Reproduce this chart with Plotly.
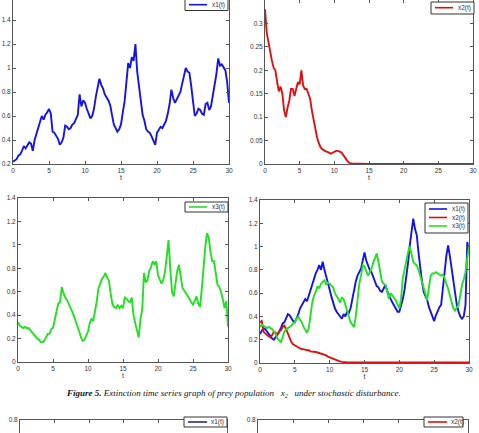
import numpy as np
import plotly.graph_objects as go

W, H = 479, 433

# time grid (0 to 30, step 0.25)
t = np.arange(0, 30.0001, 0.25)

# ---- Figure 5, panel (a): x1(t)
p1_x1 = [0.22, 0.23, 0.24, 0.27, 0.28, 0.31, 0.35, 0.33, 0.36, 0.38, 0.37, 0.31,
         0.40, 0.45, 0.50, 0.55, 0.60, 0.57, 0.61, 0.63, 0.66, 0.62, 0.47, 0.46,
         0.44, 0.41, 0.36, 0.38, 0.42, 0.52, 0.51, 0.49, 0.50, 0.53, 0.54, 0.57,
         0.61, 0.78, 0.68, 0.73, 0.71, 0.66, 0.62, 0.58, 0.60, 0.66, 0.76, 0.84,
         0.91, 0.86, 0.83, 0.78, 0.76, 0.73, 0.69, 0.60, 0.53, 0.50, 0.47, 0.49,
         0.53, 0.63, 0.72, 0.88, 1.04, 1.00, 1.09, 1.06, 1.20, 0.97, 0.85, 0.70,
         0.61, 0.56, 0.49, 0.47, 0.46, 0.43, 0.40, 0.36, 0.46, 0.48, 0.51, 0.50,
         0.53, 0.56, 0.62, 0.70, 0.82, 0.75, 0.71, 0.74, 0.76, 0.80, 0.87, 0.95,
         1.00, 0.97, 0.96, 0.85, 0.71, 0.60, 0.62, 0.66, 0.65, 0.62, 0.61, 0.70,
         0.71, 0.65, 0.68, 0.76, 0.85, 0.95, 1.08, 1.02, 1.03, 1.00, 0.98, 0.88,
         0.71]

# ---- panel (b): x2(t)
p2_x2_head = [0.33, 0.28, 0.26, 0.235, 0.22, 0.205, 0.20, 0.175, 0.155, 0.165, 0.15,
              0.115, 0.10, 0.12, 0.135, 0.16, 0.16, 0.145, 0.16, 0.175, 0.17, 0.20,
              0.167, 0.16, 0.16, 0.15, 0.14, 0.115, 0.093, 0.075, 0.057, 0.045, 0.036,
              0.032, 0.029, 0.027, 0.026, 0.023, 0.022, 0.024, 0.026, 0.028, 0.028,
              0.027, 0.025, 0.02, 0.015, 0.008, 0.004, 0.002, 0.001]
p2_tail_t = [15, 20, 25, 30]
p2_tail_v = [0.0, 0.0, 0.0, 0.0]

# ---- panel (c): x3(t)
p3_x3 = [0.34, 0.31, 0.30, 0.29, 0.30, 0.29, 0.29, 0.27, 0.26, 0.23, 0.21, 0.20,
         0.19, 0.17, 0.17, 0.18, 0.21, 0.24, 0.24, 0.28, 0.29, 0.37, 0.44, 0.50,
         0.51, 0.64, 0.59, 0.55, 0.53, 0.50, 0.46, 0.43, 0.39, 0.35, 0.31, 0.26,
         0.21, 0.18, 0.19, 0.22, 0.26, 0.33, 0.37, 0.35, 0.43, 0.52, 0.63, 0.68,
         0.71, 0.73, 0.76, 0.72, 0.69, 0.58, 0.49, 0.47, 0.46, 0.49, 0.46, 0.48,
         0.46, 0.55, 0.54, 0.52, 0.51, 0.55, 0.40, 0.33, 0.26, 0.21, 0.37, 0.45,
         0.76, 0.68, 0.70, 0.78, 0.81, 0.86, 0.83, 0.86, 0.74, 0.70, 0.67, 0.70,
         0.77, 0.90, 1.04, 0.80, 0.60, 0.56, 0.69, 0.78, 0.83, 0.72, 0.63, 0.61,
         0.59, 0.57, 0.54, 0.51, 0.49, 0.52, 0.56, 0.50, 0.47, 0.62, 0.83, 0.98,
         1.10, 1.06, 0.94, 0.86, 0.86, 0.74, 0.66, 0.64, 0.60, 0.54, 0.46, 0.52,
         0.30]

# ---- panel (d): x1, x2, x3 together
p4_x1 = [0.25, 0.28, 0.30, 0.29, 0.27, 0.24, 0.22, 0.21, 0.20, 0.22, 0.25, 0.27,
         0.30, 0.34, 0.35, 0.38, 0.42, 0.41, 0.38, 0.36, 0.35, 0.38, 0.42, 0.47,
         0.50, 0.53, 0.55, 0.53, 0.58, 0.63, 0.67, 0.73, 0.77, 0.80, 0.84, 0.80,
         0.87, 0.80, 0.75, 0.69, 0.63, 0.57, 0.51, 0.47, 0.44, 0.42, 0.40, 0.38,
         0.42, 0.40, 0.44, 0.43, 0.47, 0.55, 0.64, 0.70, 0.75, 0.78, 0.81, 0.88,
         0.95, 0.88, 0.83, 0.80, 0.78, 0.73, 0.70, 0.66, 0.65, 0.62, 0.61, 0.64,
         0.67, 0.62, 0.58, 0.55, 0.52, 0.49, 0.47, 0.44, 0.44, 0.49, 0.55, 0.63,
         0.73, 0.86, 1.01, 1.12, 1.24, 1.15, 1.10, 0.95, 0.81, 0.70, 0.61, 0.57,
         0.54, 0.48, 0.44, 0.40, 0.36, 0.41, 0.45, 0.48, 0.50, 0.62, 0.78, 0.92,
         1.01, 0.92, 0.81, 0.68, 0.58, 0.50, 0.44, 0.40, 0.38, 0.40, 0.50, 1.04,
         0.95]
p4_x2_head = [0.35, 0.36, 0.27, 0.25, 0.24, 0.23, 0.22, 0.24, 0.27, 0.26, 0.24, 0.27,
              0.28, 0.31, 0.32, 0.29, 0.25, 0.21, 0.18, 0.16, 0.15, 0.14, 0.13, 0.125,
              0.12, 0.12, 0.115, 0.11, 0.11, 0.10, 0.10, 0.095, 0.095, 0.09, 0.085,
              0.08, 0.08, 0.07, 0.065, 0.055, 0.05, 0.04, 0.035, 0.03, 0.025, 0.018,
              0.012, 0.01, 0.008, 0.006, 0.005]
p4_x2_tail_t = [15, 20, 25, 30]
p4_x2_tail_v = [0.004, 0.004, 0.004, 0.004]
p4_x3 = [0.31, 0.33, 0.32, 0.31, 0.30, 0.31, 0.30, 0.29, 0.27, 0.25, 0.21, 0.19,
         0.18, 0.22, 0.27, 0.29, 0.30, 0.31, 0.32, 0.34, 0.35, 0.38, 0.40, 0.37,
         0.35, 0.31, 0.28, 0.26, 0.30, 0.42, 0.52, 0.58, 0.61, 0.66, 0.64, 0.68,
         0.70, 0.71, 0.67, 0.69, 0.68, 0.66, 0.65, 0.60, 0.58, 0.55, 0.52, 0.56,
         0.55, 0.50, 0.44, 0.38, 0.35, 0.33, 0.31, 0.40, 0.55, 0.68, 0.75, 0.84,
         0.83, 0.78, 0.75, 0.78, 0.81, 0.86, 0.90, 0.94, 0.87, 0.78, 0.70, 0.68,
         0.67, 0.62, 0.55, 0.60, 0.58, 0.57, 0.54, 0.50, 0.47, 0.55, 0.73, 0.80,
         0.88, 0.95, 1.00, 0.92, 0.87, 0.85, 0.84, 0.80, 0.75, 0.70, 0.64, 0.58,
         0.54, 0.65, 0.75, 0.77, 0.77, 0.78, 0.77, 0.76, 0.75, 0.76, 0.73, 0.68,
         0.64, 0.58, 0.52, 0.47, 0.45, 0.47, 0.50, 0.58, 0.67, 0.72, 0.78, 0.90,
         1.00]

x_ticks = [0, 5, 10, 15, 20, 25, 30]
caption_html = ("<b><i>Figure 5.</i></b><i> Extinction time series graph of prey population"
                " &nbsp; x<sub>2</sub> &nbsp; under stochastic disturbance.</i>")

BLUE = "#1414e6"
RED = "#e01010"
GREEN = "#22e022"
NAVY = "#2a2a8a"
AX = "#555555"
TXT = "#333333"
FONT = "Liberation Sans"


def fx(p):
    return p / W


def fy(p):
    return 1 - p / H


fig = go.Figure()

t2 = list(t[:len(p2_x2_head)]) + p2_tail_t
v2 = p2_x2_head + p2_tail_v
t42 = list(t[:len(p4_x2_head)]) + p4_x2_tail_t
v42 = p4_x2_head + p4_x2_tail_v

LW = 1.9
fig.add_trace(go.Scatter(x=t, y=p1_x1, mode="lines", line=dict(color=BLUE, width=LW), xaxis="x", yaxis="y"))
fig.add_trace(go.Scatter(x=t2, y=v2, mode="lines", line=dict(color=RED, width=LW), xaxis="x2", yaxis="y2"))
fig.add_trace(go.Scatter(x=t, y=p3_x3, mode="lines", line=dict(color=GREEN, width=LW), xaxis="x3", yaxis="y3"))
fig.add_trace(go.Scatter(x=t, y=p4_x1, mode="lines", line=dict(color=BLUE, width=LW), xaxis="x4", yaxis="y4"))
fig.add_trace(go.Scatter(x=t42, y=v42, mode="lines", line=dict(color=RED, width=LW), xaxis="x4", yaxis="y4"))
fig.add_trace(go.Scatter(x=t, y=p4_x3, mode="lines", line=dict(color=GREEN, width=LW), xaxis="x4", yaxis="y4"))
# the next figure's panels (only their top edge is visible): empty series
fig.add_trace(go.Scatter(x=[None], y=[None], mode="lines", line=dict(color=NAVY), xaxis="x5", yaxis="y5", hoverinfo="skip"))
fig.add_trace(go.Scatter(x=[None], y=[None], mode="lines", line=dict(color=RED), xaxis="x6", yaxis="y6", hoverinfo="skip"))

common = dict(showline=True, linecolor=AX, linewidth=1, ticks="inside", ticklen=3,
              tickcolor=AX, showgrid=False, zeroline=False,
              tickfont=dict(family=FONT, size=6.5, color=TXT))
title_t = dict(text="t", font=dict(family=FONT, size=7, color=TXT), standoff=1)

# panel geometry in pixels: (x0, x1, ytop, ybottom)
panels = {
    1: (13, 229, 0, 164),
    2: (265, 473, 0, 164),
    3: (18, 228, 198, 362),
    4: (260, 469, 200, 363),
    5: (20, 227, 420, 433),
    6: (258, 468, 420, 433),
}

layout = {}
for k, (x0, x1, yt, yb) in panels.items():
    xs = "xaxis" if k == 1 else f"xaxis{k}"
    ys = "yaxis" if k == 1 else f"yaxis{k}"
    anchor_x = "y" if k == 1 else f"y{k}"
    anchor_y = "x" if k == 1 else f"x{k}"
    layout[xs] = dict(common, domain=[fx(x0), fx(x1)], anchor=anchor_x, range=[0, 30],
                      tickvals=x_ticks)
    layout[ys] = dict(common, domain=[fy(yb), fy(yt)], anchor=anchor_y, mirror="ticks")

# panel specifics
layout["xaxis"].update(mirror=False, title=title_t)
layout["yaxis"].update(range=[0.2, 0.2 + 164 / 120], tickvals=[0.2, 0.4, 0.6, 0.8, 1, 1.2, 1.4])
layout["xaxis2"].update(mirror="ticks", title=title_t)
layout["yaxis2"].update(range=[0, 0.35],
                        tickvals=[0, 0.05, 0.1, 0.15, 0.2, 0.25, 0.3, 0.35])
layout["xaxis3"].update(mirror="ticks", title=title_t)
layout["yaxis3"].update(range=[0, 1.4], tickvals=[0, 0.2, 0.4, 0.6, 0.8, 1, 1.2, 1.4])
layout["xaxis4"].update(mirror="ticks", title=title_t)
layout["yaxis4"].update(range=[0, 1.4], tickvals=[0, 0.2, 0.4, 0.6, 0.8, 1, 1.2, 1.4])
for k in (5, 6):
    layout[f"xaxis{k}"].update(side="top", showticklabels=False, mirror=False)
    layout[f"yaxis{k}"].update(range=[0.72, 0.8], tickvals=[0.8])

fig.update_layout(**layout)

# legends (drawn as boxes with sample lines and text)
shapes = []
annotations = []


def legend(box, entries):
    bx0, bx1, by0, by1 = box
    shapes.append(dict(type="rect", xref="paper", yref="paper", x0=fx(bx0), x1=fx(bx1),
                       y0=fy(by1), y1=fy(by0), line=dict(color="#333333", width=1),
                       fillcolor="white", layer="above"))
    for (lx0, lx1, ly, tx, label, color) in entries:
        shapes.append(dict(type="line", xref="paper", yref="paper", x0=fx(lx0), x1=fx(lx1),
                           y0=fy(ly), y1=fy(ly), line=dict(color=color, width=1.6),
                           layer="above"))
        annotations.append(dict(xref="paper", yref="paper", x=fx(tx), y=fy(ly), text=label,
                                showarrow=False, xanchor="left", yanchor="middle",
                                font=dict(family=FONT, size=6.5, color=TXT)))


legend((185, 228, -5, 10.5), [(189, 207, 4.7, 210, "x1(t)", BLUE)])
legend((431, 474, 2, 14), [(435, 453, 7.7, 456, "x2(t)", RED)])
legend((185, 228, 202, 212), [(189, 207, 207, 210, "x3(t)", GREEN)])
legend((425, 468, 203, 233), [(429, 447, 209, 450, "x1(t)", BLUE),
                              (429, 447, 217.5, 450, "x2(t)", RED),
                              (429, 447, 226, 450, "x3(t)", GREEN)])
legend((184, 227, 417, 427), [(188, 207, 422, 209, "x1(t)", NAVY)])
legend((424, 463, 417, 427), [(428, 447, 422, 449, "x2(t)", RED)])

annotations.append(dict(xref="paper", yref="paper", x=fx(233), y=fy(393), text=caption_html,
                        showarrow=False, xanchor="center", yanchor="middle",
                        font=dict(family="Liberation Serif", size=9, color="#111111")))

fig.update_layout(width=W, height=H, margin=dict(l=0, r=0, t=0, b=0, autoexpand=False),
                  paper_bgcolor="white", plot_bgcolor="white", showlegend=False,
                  shapes=shapes, annotations=annotations)

fig.write_html("out.html")
